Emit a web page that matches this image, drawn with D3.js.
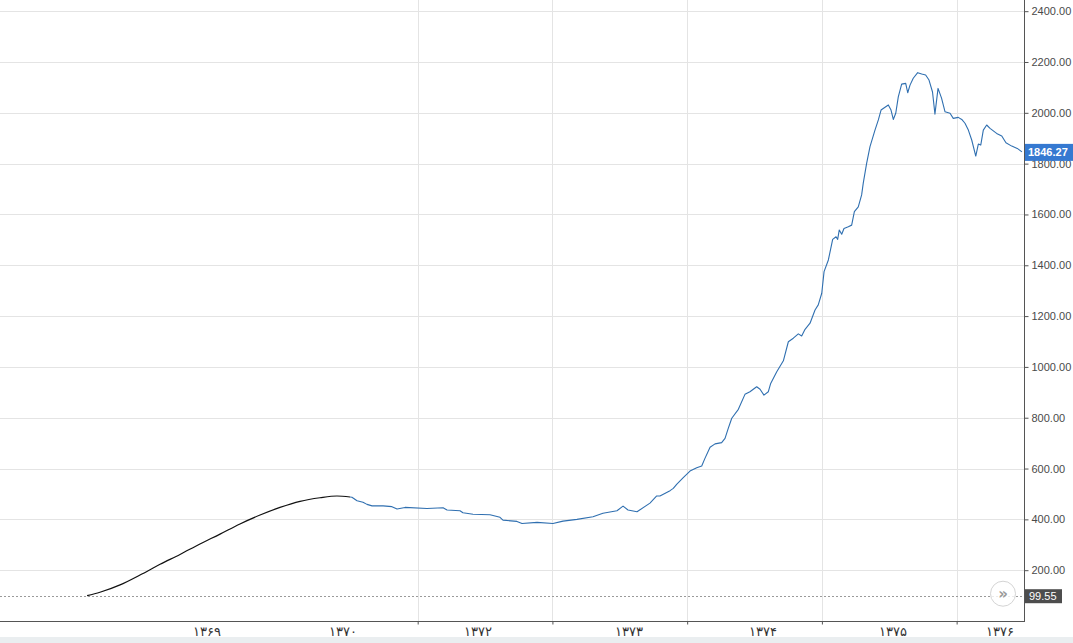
<!DOCTYPE html>
<html><head><meta charset="utf-8">
<script src="https://cdn.jsdelivr.net/npm/d3@7"></script>
<style>
html,body{margin:0;padding:0;background:#fff;overflow:hidden}
svg{display:block}
</style></head>
<body>
<script>
// ---- data ----
const blackT = [6.46,7.42,8.91,10.39,11.88,13.36,14.84,16.33,17.81,19.30,20.78,22.27,23.75,25.01,25.98];
const blackV = [99.55,113,142,181,223,262,303,342,382,417,447,471,485,492,488];

const blueT = [25.98,26.12,26.50,26.94,27.24,27.61,28.43,29.09,29.47,30.06,31.69,32.88,33.18,34.14,34.36,35.11,36.37,37.11,37.33,38.37,38.74,39.86,41.04,41.79,42.82,44.01,44.75,45.79,46.24,46.61,47.28,48.24,
  48.74,48.98,49.73,49.97,50.22,50.71,51.21,51.71,52.08,52.32,52.70,53.07,53.56,53.81,54.05,54.31,54.80,55.29,55.66,56.16,56.41,56.70,57.02,57.20,57.65,58.14,58.51,58.88,59.25,59.50,59.75,60.12,60.49,60.73,60.99,61.16,61.48,61.80,62.05,62.17,62.29,62.47,62.64,62.96,63.21,63.41,63.70,63.95,64.07,64.32,64.57,64.94,65.19,65.39,65.74,65.93,66.13,66.30,66.48,66.67,66.92,67.22,67.37,67.54,67.78,68.11,68.41,68.70,68.95,69.21,69.39,69.62,69.88,70.14,70.51,70.75,71.12,71.38,71.62,71.87,72.12,72.42,72.61,72.79,72.98,73.23,73.48,73.97,74.35,74.66,75.09,75.50,75.85];
const blueV = [488,487,473,467,459,453,453,450,441,447,443,446,437,434,426,420,418,408,397,392,384,388,384,393,400,410,424,434,452,437,430,464,
  492,492,513,522,538,564,590,603,610,640,684,697,702,719,758,798,833,892,902,922,912,889,902,935,981,1024,1099,1113,1130,1122,1148,1172,1224,1244,1290,1375,1421,1502,1512,1502,1539,1522,1545,1552,1558,1611,1630,1677,1723,1801,1867,1932,1972,2011,2024,2031,2011,1974,1998,2063,2113,2116,2079,2109,2136,2158,2153,2149,2129,2082,1995,2096,2058,2004,1998,1978,1982,1974,1959,1932,1893,1830,1877,1873,1932,1952,1939,1919,1909,1882,1869,1860,1846.27];

const gridT = [31,41,51,61,71];
const labelT = [15.36,25.46,35.48,46.68,56.63,66.28,74.22];
const labelText = ["۱۳۶۹","۱۳۷۰","۱۳۷۲","۱۳۷۳","۱۳۷۴","۱۳۷۵","۱۳۷۶"];
const yTicks = [200,400,600,800,1000,1200,1400,1600,1800,2000,2200,2400];
const lastValue = 1846.27;
const baseValue = 99.55;

// ---- layout ----
const W = 1073, H = 643;
const plotR = 1024, plotB = 621;
const svg = d3.select("body").append("svg").attr("width", W).attr("height", H);

const x = d3.scaleLinear().domain([0, 76]).range([0, plotR]);
const y = d3.scaleLinear().domain([0, 2444]).range([plotB, 0]);

// bottom band
svg.append("rect").attr("x",0).attr("y",637).attr("width",W).attr("height",H-637).attr("fill","#eaeef0");

// grid
const g = svg.append("g");
g.selectAll("line.hy").data(yTicks).join("line")
  .attr("x1",0).attr("x2",plotR).attr("y1",d=>Math.round(y(d))+0.5).attr("y2",d=>Math.round(y(d))+0.5)
  .attr("stroke","#e4e4e4").attr("stroke-width",1);
g.selectAll("line.vx").data(gridT).join("line")
  .attr("x1",d=>Math.round(x(d))+0.5).attr("x2",d=>Math.round(x(d))+0.5).attr("y1",0).attr("y2",plotB)
  .attr("stroke","#e4e4e4").attr("stroke-width",1);

// dashed base line
svg.append("line").attr("x1",0).attr("x2",plotR)
  .attr("y1",Math.round(y(baseValue))+0.5).attr("y2",Math.round(y(baseValue))+0.5)
  .attr("stroke","#9a9a9a").attr("stroke-width",1).attr("stroke-dasharray","2,2");

// lines
const blackData = blackT.map((t,i)=>[t,blackV[i]]);
const blueData = blueT.map((t,i)=>[t,blueV[i]]);
svg.append("path").datum(blackData)
  .attr("d", d3.line().x(d=>x(d[0])).y(d=>y(d[1])).curve(d3.curveMonotoneX))
  .attr("fill","none").attr("stroke","#111").attr("stroke-width",1.2);
svg.append("path").datum(blueData)
  .attr("d", d3.line().x(d=>x(d[0])).y(d=>y(d[1])))
  .attr("fill","none").attr("stroke","#2f6fb0").attr("stroke-width",1.1).attr("stroke-linejoin","round");

// right axis
const ra = svg.append("g").attr("transform",`translate(${plotR+0.5},0)`)
  .call(d3.axisRight(y).tickValues(yTicks).tickSize(4).tickPadding(3).tickFormat(d3.format(".2f")));
ra.select(".domain").attr("stroke","#555").attr("d",`M0,0V${plotB}`);
ra.selectAll(".tick line").attr("stroke","#555");
ra.selectAll("text").attr("fill","#4a4a4a").style("font-family","'Liberation Sans', Arial, sans-serif").style("font-size","11px");

// bottom axis
const ba = svg.append("g").attr("transform",`translate(0,${plotB+0.5})`)
  .call(d3.axisBottom(x).tickValues(gridT).tickSize(3).tickFormat(""));
ba.select(".domain").attr("stroke","#555").attr("d",`M0,0H${plotR+1}`);
ba.selectAll(".tick line").attr("stroke","#555");
svg.append("g").selectAll("text").data(labelT).join("text")
  .attr("x",d=>x(d)).attr("y",636).attr("text-anchor","middle")
  .attr("fill","#333").style("font-family","'DejaVu Sans', sans-serif").style("font-size","13px")
  .text((d,i)=>labelText[i]);

// last value label
const ly = y(lastValue);
svg.append("rect").attr("x",plotR+1).attr("y",ly-8).attr("width",W-plotR-1).attr("height",17).attr("fill","#3579d1");
svg.append("text").attr("x",plotR+4).attr("y",ly+4.5).attr("fill","#fff")
  .style("font-family","'Liberation Sans', Arial, sans-serif").style("font-size","11px").style("font-weight","bold")
  .text(lastValue.toFixed(2));

// base value label
const by = y(baseValue);
svg.append("rect").attr("x",plotR+1).attr("y",by-6.5).attr("width",37).attr("height",14).attr("fill","#4d4d4d");
svg.append("text").attr("x",plotR+5).attr("y",by+4.5).attr("fill","#fff")
  .style("font-family","'Liberation Sans', Arial, sans-serif").style("font-size","11px")
  .text(baseValue.toFixed(2));

// scroll button
svg.append("circle").attr("cx",1003).attr("cy",by-2).attr("r",12.5)
  .attr("fill","rgba(255,255,255,0.8)").attr("stroke","#d4d4d4").attr("stroke-width",1);
svg.append("text").attr("x",1003).attr("y",by+3).attr("text-anchor","middle").attr("fill","#9a9a9a")
  .style("font-family","'DejaVu Sans', sans-serif").style("font-size","15px").style("font-weight","bold").text("»");
</script>
</body></html>
